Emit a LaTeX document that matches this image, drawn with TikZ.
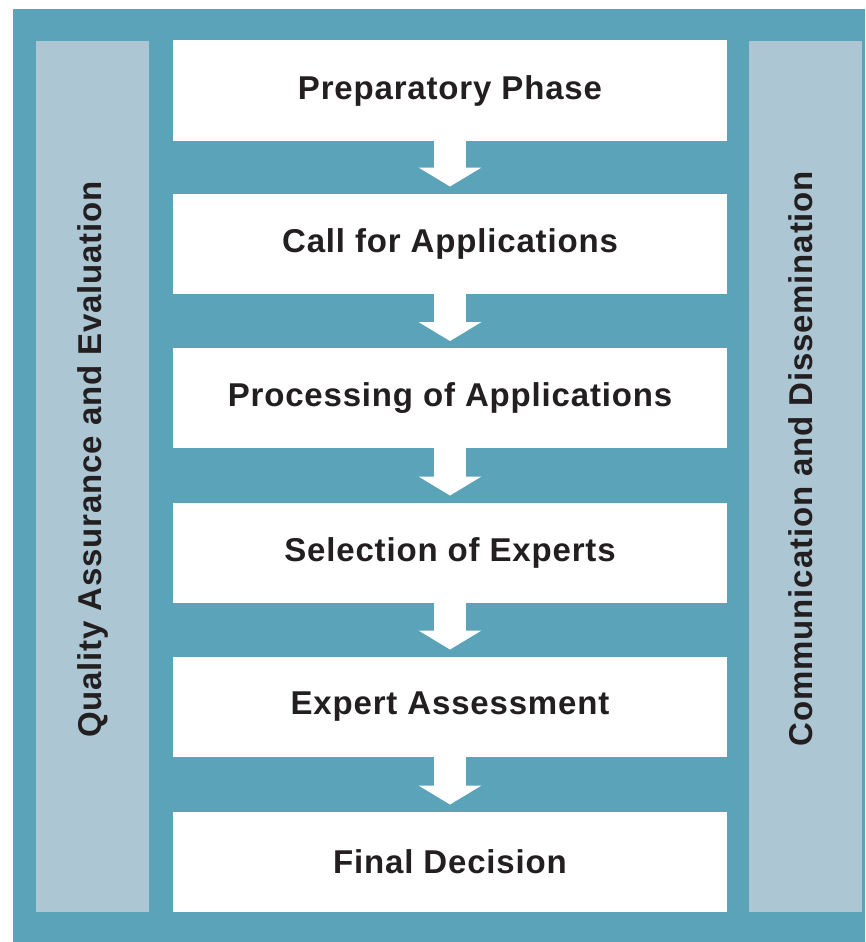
\documentclass[tikz,border=0pt]{standalone}
\usepackage{fontspec}
\setmainfont[LetterSpace=2.5]{Liberation Sans}
\usetikzlibrary{arrows.meta}
\definecolor{frameteal}{RGB}{91,163,184}
\definecolor{panelblue}{RGB}{172,199,211}
\definecolor{inkgray}{RGB}{35,31,32}

\begin{document}
\begin{tikzpicture}[x=1pt, y=-1pt,
  every node/.style={outer sep=0pt, inner sep=0pt, text=inkgray, font=\fontsize{33}{40}\selectfont\bfseries},
  stage/.style={fill=white, minimum width=554pt, minimum height=100pt},
  side/.style={fill=panelblue, minimum width=113pt, minimum height=871pt},
  sidetext/.style={rotate=90},
  flow/.style={white, line width=32pt, -{Triangle[width=63pt, length=19pt, line width=0pt]}, shorten >=7pt}]
\useasboundingbox (0,0) rectangle (865,942);
\fill[frameteal] (13,9) rectangle (865,942);

\node[side] (quality) at (92.5,476.5) {};
\node[side] (communication) at (805,476.5) {};
\node[sidetext] at ([yshift=17pt]quality.center) {Quality Assurance and Evaluation};
\node[sidetext] at ([xshift=-4pt, yshift=18pt]communication.center) {Communication and Dissemination};

\node[stage] (prep) at (450,90.5) {Preparatory Phase};
\node[stage] (call) at (450,243.5) {Call for Applications};
\node[stage] (proc) at (450,398) {Processing of Applications};
\node[stage] (select) at (450,552.5) {Selection of Experts};
\node[stage] (assess) at (450,706.5) {Expert Assessment};
\node[stage] (decision) at (450,861.5) {Final Decision};

\draw[flow] (prep) -- (call);
\draw[flow] (call) -- (proc);
\draw[flow] (proc) -- (select);
\draw[flow] (select) -- (assess);
\draw[flow] (assess) -- (decision);
\end{tikzpicture}
\end{document}
